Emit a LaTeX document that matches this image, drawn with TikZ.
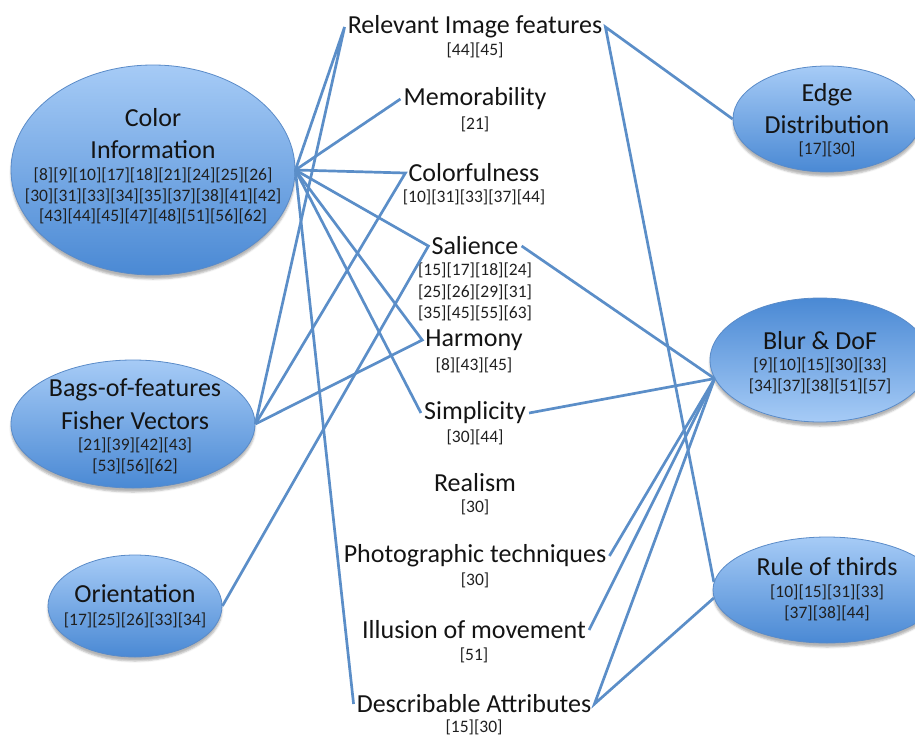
\documentclass[tikz,border=0pt]{standalone}
\usepackage{fontspec}
\setmainfont{Carlito}
\usetikzlibrary{shapes.geometric,shadows.blur}
\definecolor{BubTop}{HTML}{A6CBF6}
\definecolor{BubBot}{HTML}{4A89D4}
\definecolor{BubEdge}{HTML}{5A8BC8}
\definecolor{LinkColor}{HTML}{5B8EC8}

\begin{document}
\begin{tikzpicture}[x=1pt, y=-1pt,
  bubble/.style={ellipse, draw=BubEdge, line width=0.8pt, top color=BubTop, bottom color=BubBot,
    inner sep=0pt, blur shadow={shadow xshift=0pt, shadow yshift=-4pt, shadow opacity=30}},
  bubbleflip/.style={bubble, top color=BubBot, bottom color=BubTop},
  head/.style={font=\fontsize{26}{32}\selectfont, align=center, inner sep=3pt, text=black!92},
  refs/.style={font=\fontsize{17.5}{20.5}\selectfont, align=center, inner sep=0pt, text=black!88},
  link/.style={draw=LinkColor, line width=2.7pt}]
  \useasboundingbox (0,0) rectangle (915,736);

  \node[bubble, minimum width=284, minimum height=210] (cinfo) at (153,170) {};
  \node[head] (cinfoT) at (153,134) {Color\\Information};
  \node[refs] (cinfoR) at (153,196) {[8][9][10][17][18][21][24][25][26]\\{}[30][31][33][34][35][37][38][41][42]\\{}[43][44][45][47][48][51][56][62]};
  \node[bubble, minimum width=244, minimum height=128] (bags) at (133,424) {};
  \node[head, font=\fontsize{26}{33}\selectfont] (bagsT) at (135,404) {Bags-of-features\\Fisher Vectors};
  \node[refs] (bagsR) at (135,456) {[21][39][42][43]\\{}[53][56][62]};
  \node[bubble, minimum width=174, minimum height=102] (orient) at (135,606) {};
  \node[head] (orientT) at (135,594) {Orientation};
  \node[refs] (orientR) at (135,620) {[17][25][26][33][34]};

  \node[bubble, minimum width=188, minimum height=106] (edge) at (827,119) {};
  \node[head] (edgeT) at (827,109) {Edge\\Distribution};
  \node[refs] (edgeR) at (827,149) {[17][30]};
  \node[bubbleflip, minimum width=220, minimum height=124] (blur) at (820,360) {};
  \node[head] (blurT) at (820,341) {Blur \& DoF};
  \node[refs] (blurR) at (820,376) {[9][10][15][30][33]\\{}[34][37][38][51][57]};
  \node[bubble, minimum width=228, minimum height=106] (rule) at (827,590) {};
  \node[head] (ruleT) at (827,567) {Rule of thirds};
  \node[refs] (ruleR) at (827,603) {[10][15][31][33]\\{}[37][38][44]};

  \node[head] (relv) at (475,27) {Relevant Image features};
  \node[refs] (relvR) at (475,50) {[44][45]};
  \node[head] (memo) at (475,99) {Memorability};
  \node[refs] (memoR) at (475,124) {[21]};
  \node[head] (colf) at (474,173) {Colorfulness};
  \node[refs] (colfR) at (474,197) {[10][31][33][37][44]};
  \node[head] (sali) at (475,246) {Salience};
  \node[refs, font=\fontsize{17.5}{21.5}\selectfont] (saliR) at (475,292) {[15][17][18][24]\\{}[25][26][29][31]\\{}[35][45][55][63]};
  \node[head] (harm) at (474,340) {Harmony};
  \node[refs] (harmR) at (474,365) {[8][43][45]};
  \node[head] (simp) at (475,413) {Simplicity};
  \node[refs] (simpR) at (475,437) {[30][44]};
  \node[head] (real) at (475,483) {Realism};
  \node[refs] (realR) at (475,507) {[30]};
  \node[head] (phot) at (475,556) {Photographic techniques};
  \node[refs] (photR) at (475,580) {[30]};
  \node[head] (illu) at (474,630) {Illusion of movement};
  \node[refs] (illuR) at (474,655) {[51]};
  \node[head] (desc) at (474,704) {Describable Attributes};
  \node[refs] (descR) at (474,727) {[15][30]};

  \draw[link] (cinfo.east) -- (relv.west) -- (bags.east);
  \draw[link] (cinfo.east) -- (memo.west);
  \draw[link] (cinfo.east) -- (colf.west) -- (bags.east);
  \draw[link] (cinfo.east) -- (sali.west) -- (orient.east);
  \draw[link] (cinfo.east) -- (harm.west) -- (bags.east);
  \draw[link] (cinfo.east) -- (simp.west);
  \draw[link] (cinfo.east) -- (desc.west);
  \draw[link] (edge.west) -- (relv.east) -- (rule.176);
  \draw[link] (sali.east) -- (blur.190);
  \draw[link] (simp.east) -- (blur.190);
  \draw[link] (phot.east) -- (blur.190);
  \draw[link] (illu.east) -- (blur.190);
  \draw[link] (blur.190) -- (desc.east) -- (rule.184);
\end{tikzpicture}
\end{document}
